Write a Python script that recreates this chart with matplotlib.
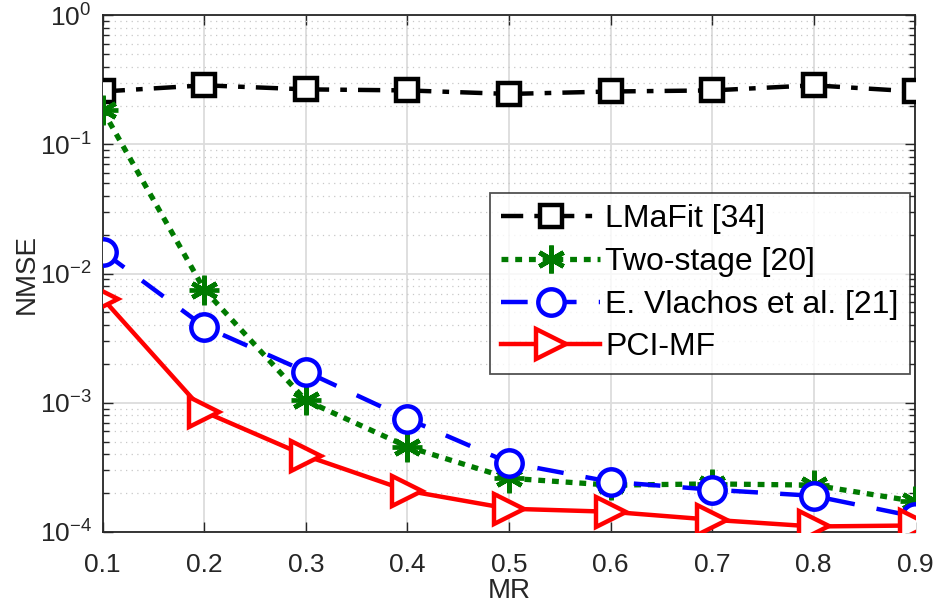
import matplotlib
matplotlib.use("Agg")
import matplotlib.pyplot as plt
from matplotlib.ticker import LogLocator, NullFormatter
from matplotlib.lines import Line2D

plt.rcParams['font.family'] = ['Liberation Sans', 'DejaVu Sans']
plt.rcParams['mathtext.fontset'] = 'custom'
plt.rcParams['mathtext.rm'] = 'Liberation Sans'
plt.rcParams['mathtext.it'] = 'Liberation Sans'
plt.rcParams['mathtext.default'] = 'regular'

# data
mr = [0.1, 0.2, 0.3, 0.4, 0.5, 0.6, 0.7, 0.8, 0.9]
lmafit = [0.257, 0.287, 0.267, 0.262, 0.246, 0.257, 0.262, 0.287, 0.257]
two_stage = [0.184, 0.0075, 0.00104, 4.56e-4, 2.6e-4, 2.3e-4, 2.35e-4, 2.3e-4, 1.72e-4]
vlachos = [0.0148, 0.00388, 0.00174, 7.5e-4, 3.43e-4, 2.44e-4, 2.12e-4, 1.9e-4, 1.31e-4]
pci_mf = [0.0064, 8.5e-4, 3.88e-4, 2.08e-4, 1.51e-4, 1.43e-4, 1.24e-4, 1.1e-4, 1.12e-4]
labels = ['LMaFit [34]', 'Two-stage [20]', 'E. Vlachos et al. [21]', 'PCI-MF']

green = '#007a00'
lw = 3.2
sty = [
    dict(color='black', linestyle=(0, (5, 2.5, 1.5, 2.5)), linewidth=lw,
         marker='s', markersize=16, markerfacecolor='white', markeredgewidth=3.2),
    dict(color=green, linestyle=(0, (1.3, 1.3)), linewidth=lw + 0.6,
         marker=(6, 2, 0), markersize=20, markeredgewidth=3.4),
    dict(color='blue', linestyle=(0, (6, 5)), linewidth=lw,
         marker='o', markersize=19, markerfacecolor='white', markeredgewidth=3.2),
    dict(color='red', linestyle='-', linewidth=lw,
         marker='>', markersize=21, markerfacecolor='white', markeredgewidth=3.2),
]

fig = plt.figure(figsize=(9.34, 6.12), dpi=100)
ax = fig.add_axes([0.110, 0.131, 0.870, 0.844])

ax.plot(mr, lmafit, label=labels[0], zorder=3, **sty[0])
ax.plot(mr, two_stage, label=labels[1], zorder=4, **sty[1])
ax.plot(mr, two_stage, linestyle='none', color=green, marker='+',
        markersize=22, markeredgewidth=3.4, zorder=4)
ax.plot(mr, vlachos, label=labels[2], zorder=5, **sty[2])
ax.plot(mr, pci_mf, label=labels[3], zorder=6, **sty[3])

ax.set_yscale('log')
ax.set_ylim(1e-4, 1)
ax.set_xlim(0.1, 0.9)
ax.set_xticks(mr)
ax.set_xticklabels(['%.1f' % v for v in mr])
ax.yaxis.set_major_locator(LogLocator(base=10, numticks=10))
ax.yaxis.set_minor_locator(LogLocator(base=10, subs=range(2, 10), numticks=50))
ax.yaxis.set_minor_formatter(NullFormatter())

ax.grid(True, which='major', color='#dcdcdc', linewidth=1.3, linestyle='-')
ax.grid(True, which='minor', axis='y', color='#c8c8c8', linewidth=0.9, linestyle=(0, (1, 3.5)))
ax.set_axisbelow(True)

ax.tick_params(axis='both', which='both', direction='in', top=True, right=True,
               labelsize=19, colors='#262626', width=1)
ax.tick_params(axis='x', pad=15)
ax.tick_params(axis='y', pad=8)
ax.tick_params(which='major', length=7)
ax.tick_params(which='minor', length=4)
for s in ax.spines.values():
    s.set_color('#262626')
    s.set_linewidth(1.3)

ax.set_xlabel('MR', fontsize=20, color='#262626', labelpad=1)
ax.set_ylabel('NMSE', fontsize=20, color='#262626', labelpad=0)

handles = [Line2D([], [], **s) for s in sty]
leg = ax.legend(handles, labels, loc='upper right', bbox_to_anchor=(0.993, 0.656),
                fontsize=23, frameon=True, fancybox=False, edgecolor='#262626',
                handlelength=3.1, handletextpad=0.15, borderpad=0.35,
                labelspacing=0.4, borderaxespad=0.0)
leg.get_frame().set_linewidth(1.3)

fig.savefig('out.png', dpi=100)
